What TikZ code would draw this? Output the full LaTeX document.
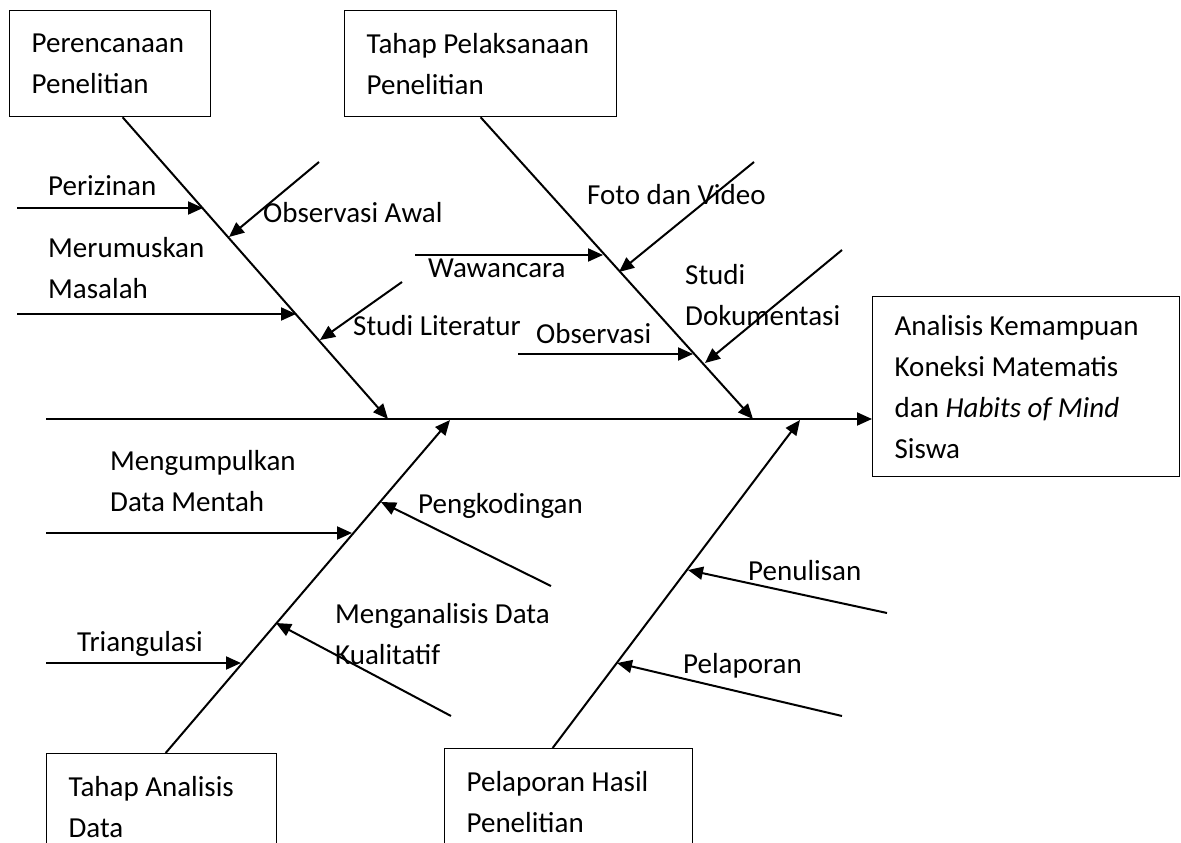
\documentclass[tikz,border=0pt]{standalone}
\usepackage{fontspec}
\setmainfont{Carlito}
\usetikzlibrary{arrows.meta}
\tikzset{
    stagebox/.style={draw, line width=1.3pt, anchor=north west, inner xsep=22pt, inner ysep=0pt, align=flush left, font=\fontsize{29}{41}\selectfont},
    cause/.style={inner sep=0pt, anchor=base west, align=flush left, font=\fontsize{29}{41}\selectfont},
    bone/.style={line width=2pt, -{Triangle[length=15pt,width=13pt]}}
}

\begin{document}
\begin{tikzpicture}[x=1pt,y=-1pt]
    \useasboundingbox (0,0) rectangle (1181,843);
    \node[stagebox, text width=157pt, minimum height=106pt] (plan) at (9,10) {Perencanaan\\Penelitian};
    \node[stagebox, text width=228pt, minimum height=106pt] (exec) at (344,10) {Tahap Pelaksanaan\\Penelitian};
    \node[stagebox, text width=263pt, minimum height=180pt] (goal) at (872,296) {Analisis Kemampuan\\Koneksi Matematis\\dan \textit{Habits of Mind}\\Siswa};
    \node[stagebox, text width=186pt, minimum height=106pt] (analysis) at (46,753) {Tahap Analisis\\Data};
    \node[stagebox, text width=204pt, minimum height=106pt] (report) at (444,748) {Pelaporan Hasil\\Penelitian};

    \node[cause] (perizinan) at (48,195) {Perizinan};
    \node[cause] (rumus) at (48,298) {Merumuskan\\Masalah};
    \node[cause] (obsawal) at (263,222) {Observasi Awal};
    \node[cause] (literatur) at (353,335) {Studi Literatur};
    \node[cause] (wawancara) at (428,277) {Wawancara};
    \node[cause] (foto) at (587,204) {Foto dan Video};
    \node[cause] (dokumen) at (685,325) {Studi\\Dokumentasi};
    \node[cause] (observasi) at (536,343) {Observasi};
    \node[cause] (mentah) at (110,511) {Mengumpulkan\\Data Mentah};
    \node[cause] (kode) at (418,513) {Pengkodingan};
    \node[cause] (triangulasi) at (77,651) {Triangulasi};
    \node[cause] (kualitatif) at (335,664) {Menganalisis Data\\Kualitatif};
    \node[cause] (penulisan) at (748,580) {Penulisan};
    \node[cause] (pelaporan) at (683,673) {Pelaporan};

    \coordinate (spine) at (46,419);
    \foreach \n/\x/\y in {b1/388/419, b2/753/419, b3/450/420, b4/800/420,
        s1/17/208, t1/203/208, s2/17/314, t2/296/314, s3/319/162, t3/229/237, s4/402/282, t4/320/340,
        s5/415/255, t5/603/255, s6/754/162, t6/619/272, s7/842/250, t7/705/363, s8/518/354, t8/693/354,
        s9/46/533, t9/352/533, s10/551/586, t10/381/502, s11/46/663, t11/241/663, s12/451/716, t12/276/623,
        s13/887/613, t13/688/570, s14/842/716, t14/617/663}
        \coordinate (\n) at (\x,\y);

    \draw[bone] (spine) -- (spine -| goal.west);
    \draw[bone] ([xshift=12.5pt]plan.south) -- (b1);
    \draw[bone] (exec.south) -- (b2);
    \draw[bone] ([xshift=4pt]analysis.north) -- (b3);
    \draw[bone] ([xshift=-16pt]report.north) -- (b4);
    \foreach \i in {1,...,14}
        \draw[bone] (s\i) -- (t\i);
\end{tikzpicture}
\end{document}
